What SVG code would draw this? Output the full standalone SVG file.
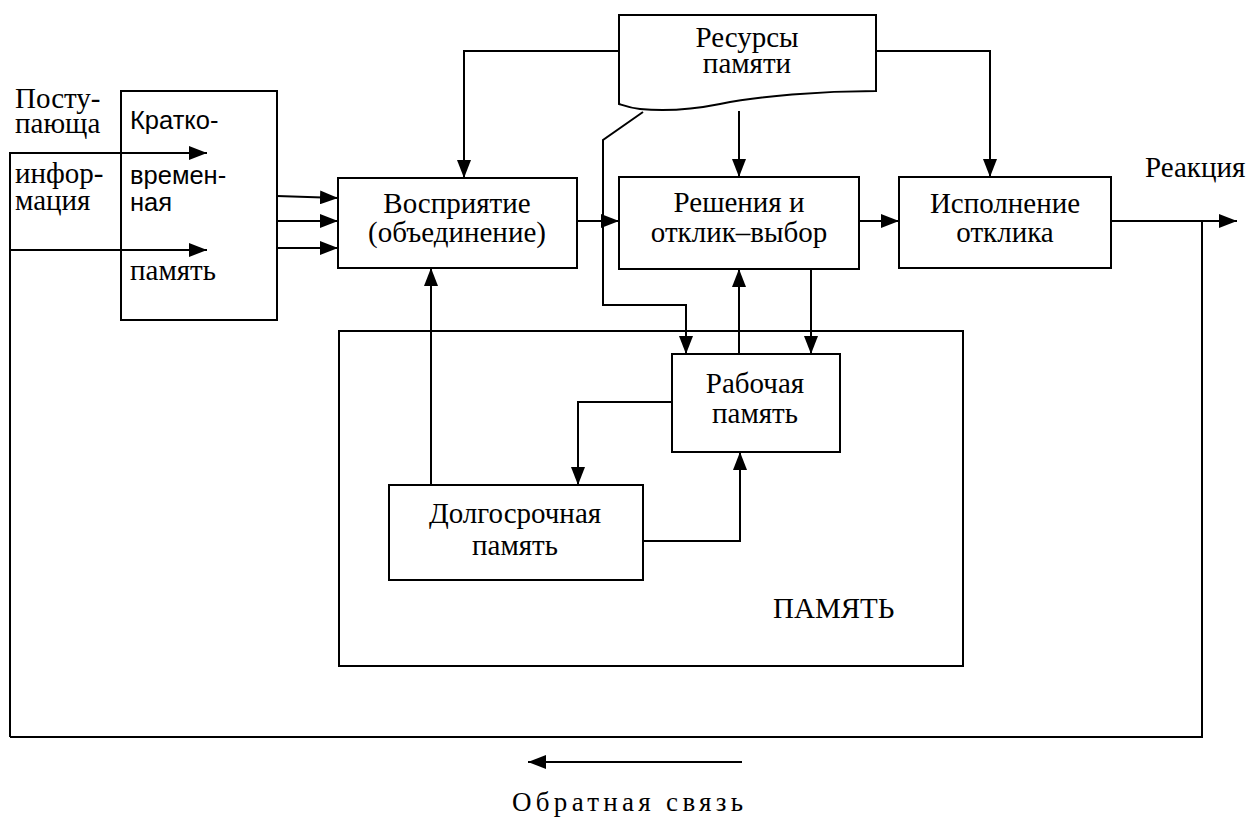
<svg xmlns="http://www.w3.org/2000/svg" width="1255" height="818" viewBox="0 0 1255 818">
<style>
.box{fill:#fff;stroke:#000;stroke-width:2}
.ln{fill:none;stroke:#000;stroke-width:2}
.ar{fill:none;stroke:#000;stroke-width:2;marker-end:url(#ah)}
.t{font-family:"Liberation Serif","Times New Roman",serif;font-size:29px;fill:#000}
.s{font-family:"Liberation Sans",Arial,sans-serif;font-size:25.5px;fill:#000}
.c{text-anchor:middle}
</style>
<defs>
<marker id="ah" markerWidth="18" markerHeight="14" refX="18" refY="7" orient="auto" markerUnits="userSpaceOnUse">
<path d="M0,0 L18,7 L0,14 Z" fill="#000"/>
</marker>
</defs>
<rect width="1255" height="818" fill="#fff"/>

<g id="stm">
<rect class="box" x="121" y="91" width="156" height="229"/>
<text class="s" x="130" y="129">Кратко-</text>
<text class="s" x="130" y="184">времен-</text>
<text class="s" x="130" y="211">ная</text>
<text class="t" x="130" y="280">память</text>
</g>

<g id="perception">
<rect class="box" x="338" y="178" width="239" height="90"/>
<text class="t c" x="457" y="213">Восприятие</text>
<text class="t c" x="457" y="242">(объединение)</text>
</g>

<g id="decision">
<rect class="box" x="619" y="177" width="240" height="92"/>
<text class="t c" x="739" y="212">Решения и</text>
<text class="t c" x="739" y="242">отклик–выбор</text>
</g>

<g id="execution">
<rect class="box" x="899" y="177" width="212" height="91"/>
<text class="t c" x="1005" y="213">Исполнение</text>
<text class="t c" x="1005" y="242">отклика</text>
</g>

<g id="resources">
<path class="box" d="M619,15 L876,15 L876,91 C820,91 760,96 720,104 C690,110 660,111 640,109 C630,108 625,106 619,104 Z"/>
<text class="t c" x="747" y="47">Ресурсы</text>
<text class="t c" x="747" y="73">памяти</text>
</g>

<g id="memory">
<rect class="box" x="339" y="331" width="624" height="335"/>
<text class="t" x="773" y="618">ПАМЯТЬ</text>
</g>

<g id="working">
<rect class="box" x="672" y="354" width="168" height="98"/>
<text class="t c" x="755" y="393">Рабочая</text>
<text class="t c" x="755" y="423">память</text>
</g>

<g id="longterm">
<rect class="box" x="389" y="485" width="254" height="95"/>
<text class="t c" x="515" y="523">Долгосрочная</text>
<text class="t c" x="515" y="555">память</text>
</g>

<g id="labels">
<text class="t" x="15" y="108">Посту-</text>
<text class="t" x="15" y="133">пающа</text>
<text class="t" x="15" y="183">инфор-</text>
<text class="t" x="15" y="210">мация</text>
<text class="t" x="1145" y="177">Реакция</text>
<text class="t" x="512" y="811" style="font-size:27px;letter-spacing:4.3px">Обратная связь</text>
</g>

<g id="connectors">
<path class="ar" d="M10,737 L10,153 L207,153"/>
<path class="ar" d="M10,250 L207,250"/>
<path class="ar" d="M277,196 L338,198"/>
<path class="ar" d="M277,221 L338,221"/>
<path class="ar" d="M277,248 L338,248"/>
<path class="ar" d="M577,221 L619,221"/>
<path class="ar" d="M859,221 L899,221"/>
<path class="ar" d="M1111,221 L1237,221"/>
<path class="ln" d="M1202,221 L1202,737 L10,737"/>
<path class="ar" d="M742,762 L528,762"/>
<path class="ar" d="M619,51 L464,51 L464,178"/>
<path class="ar" d="M876,51 L990,51 L990,177"/>
<path class="ar" d="M739,111 L739,177"/>
<path class="ar" d="M643,112 L603,140 L603,305 L686,305 L686,354"/>
<path class="ar" d="M431,485 L431,268"/>
<path class="ar" d="M739,354 L739,269"/>
<path class="ar" d="M811,269 L811,354"/>
<path class="ar" d="M672,402 L578,402 L578,485"/>
<path class="ar" d="M643,541 L740,541 L740,452"/>
</g>
</svg>
